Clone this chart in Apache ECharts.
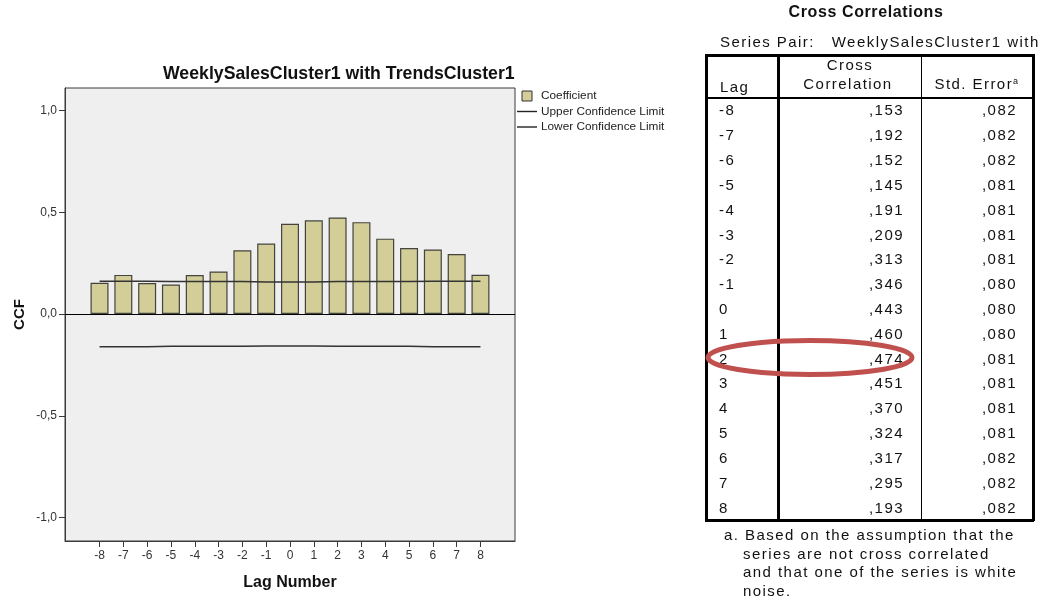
<!DOCTYPE html>
<html>
<head>
<meta charset="utf-8">
<script src="https://cdn.jsdelivr.net/npm/echarts@6/dist/echarts.min.js"></script>
<style>
  html, body { margin: 0; padding: 0; background: #ffffff; }
  #wrap { position: relative; width: 1042px; height: 596px; overflow: hidden; background: #fff; }
  #chart { position: absolute; left: 0; top: 0; width: 1042px; height: 596px; }
  .t { position: absolute; font-family: "Liberation Sans", Arial, sans-serif; color: #111; white-space: nowrap; font-size: 15px; letter-spacing: 1.45px; line-height: 16px; }
  .ln { position: absolute; background: #000; }
</style>
</head>
<body>
<div id="wrap">
  <div id="chart"></div>
  <div id="table"></div>
  <svg id="ov" width="1042" height="596" style="position:absolute;left:0;top:0;pointer-events:none">
    <ellipse cx="810" cy="357.5" rx="102" ry="17" fill="none" stroke="#c0504d" stroke-width="5"/>
  </svg>
</div>
<script>
// ---- Data ----
var lags = [-8, -7, -6, -5, -4, -3, -2, -1, 0, 1, 2, 3, 4, 5, 6, 7, 8];
var coefficient = [0.153, 0.192, 0.152, 0.145, 0.191, 0.209, 0.313, 0.346, 0.443, 0.460, 0.474, 0.451, 0.370, 0.324, 0.317, 0.295, 0.193];
var stdError = [0.082, 0.082, 0.082, 0.081, 0.081, 0.081, 0.081, 0.080, 0.080, 0.080, 0.081, 0.081, 0.081, 0.081, 0.082, 0.082, 0.082];
var upperLimit = [0.161, 0.161, 0.161, 0.159, 0.159, 0.159, 0.159, 0.157, 0.157, 0.157, 0.159, 0.159, 0.159, 0.159, 0.161, 0.161, 0.161];
var lowerLimit = [-0.161, -0.161, -0.161, -0.159, -0.159, -0.159, -0.159, -0.157, -0.157, -0.157, -0.159, -0.159, -0.159, -0.159, -0.161, -0.161, -0.161];
var yTicks = [-1.0, -0.5, 0.0, 0.5, 1.0];
var chartTitle = 'WeeklySalesCluster1 with TrendsCluster1';
var tableTitle = 'Cross Correlations';
var seriesPair = 'Series Pair:\u00a0\u00a0 WeeklySalesCluster1 with';
var footnote = ['a. Based on the assumption that the', 'series are not cross correlated', 'and that one of the series is white', 'noise.'];

function pair(xs, ys) { return xs.map(function (x, i) { return [x, ys[i]]; }); }
function fmt3(v) { return v.toFixed(3).replace(/^0\./, ','); }

var FONT = '"Liberation Sans", Arial, sans-serif';
var LINE_ICON = 'path://M0,0L20,0L20,1.4L0,1.4Z';
var chart = echarts.init(document.getElementById('chart'), null, { renderer: 'canvas' });
chart.setOption({
  animation: false,
  textStyle: { fontFamily: FONT },
  title: {
    text: chartTitle, left: 158, top: 60,
    textStyle: { fontFamily: FONT, fontSize: 17.7, fontWeight: 'bold', color: '#111' }
  },
  legend: {
    orient: 'vertical', left: 517, top: 90, padding: 0, itemWidth: 20, itemHeight: 10, itemGap: 3.5,
    textStyle: { fontFamily: FONT, fontSize: 11.8, color: '#222', padding: [0, 0, 0, -1] },
    data: [
      { name: 'Coefficient', icon: 'path://M0,0L10,0L10,10L0,10Z', itemStyle: { color: '#d3ce97', borderColor: '#333', borderWidth: 1 } },
      { name: 'Upper Confidence Limit', icon: LINE_ICON, itemStyle: { color: '#222', borderWidth: 0 } },
      { name: 'Lower Confidence Limit', icon: LINE_ICON, itemStyle: { color: '#222', borderWidth: 0 } }
    ]
  },
  grid: {
    left: 65, top: 88, right: 527, bottom: 55,
    show: true, backgroundColor: '#efefef', borderColor: '#3a3a3a', borderWidth: 1
  },
  xAxis: {
    type: 'value', min: -9.45, max: 9.45,
    name: 'Lag Number', nameLocation: 'middle', nameGap: 34,
    nameTextStyle: { fontFamily: FONT, fontSize: 16, fontWeight: 'bold', color: '#111' },
    axisLine: { show: true, onZero: false, lineStyle: { color: '#3a3a3a' } },
    axisTick: { show: true, length: 6, customValues: lags, lineStyle: { color: '#3a3a3a' } },
    axisLabel: { customValues: lags, margin: 9, fontSize: 12, color: '#333', fontFamily: FONT },
    splitLine: { show: false }
  },
  yAxis: {
    type: 'value', min: -1.115, max: 1.11,
    name: 'CCF', nameLocation: 'middle', nameGap: 38, nameRotate: 90,
    nameTextStyle: { fontFamily: FONT, fontSize: 15, fontWeight: 'bold', color: '#111' },
    axisLine: { show: true, onZero: false, lineStyle: { color: '#3a3a3a' } },
    axisTick: { show: true, length: 6, customValues: yTicks, lineStyle: { color: '#3a3a3a' } },
    axisLabel: {
      customValues: yTicks, margin: 8, fontSize: 12, color: '#333', fontFamily: FONT,
      formatter: function (v) { return v.toFixed(1).replace('.', ','); }
    },
    splitLine: { show: false }
  },
  series: [
    {
      name: 'Coefficient', type: 'bar', barWidth: 18,
      data: pair(lags, coefficient),
      itemStyle: { color: '#d3ce97', borderColor: 'rgba(40,40,40,0.85)', borderWidth: 1.2 },
      markLine: {
        silent: true, symbol: 'none', label: { show: false },
        lineStyle: { color: '#000', width: 1, type: 'solid' },
        data: [{ yAxis: 0 }]
      },
      z: 2
    },
    {
      name: 'Upper Confidence Limit', type: 'line', symbol: 'none',
      data: pair(lags, upperLimit), lineStyle: { color: '#333', width: 1.5 }, itemStyle: { color: '#333' }, z: 3
    },
    {
      name: 'Lower Confidence Limit', type: 'line', symbol: 'none',
      data: pair(lags, lowerLimit), lineStyle: { color: '#333', width: 1.5 }, itemStyle: { color: '#333' }, z: 3
    }
  ]
});

// ---- Table (HTML) ----
(function () {
  var host = document.getElementById('table');
  var html = '';
  function text(s, x, y, opts) {
    opts = opts || {};
    var st = 'top:' + (y - 8) + 'px;';
    if (opts.align === 'right') st += 'right:' + (1042 - x) + 'px;';
    else if (opts.align === 'center') st += 'left:' + x + 'px;transform:translateX(-50%);';
    else st += 'left:' + x + 'px;';
    if (opts.bold) st += 'font-weight:bold;letter-spacing:0.6px;';
    if (opts.size) st += 'font-size:' + opts.size + 'px;';
    html += '<div class="t" style="' + st + '">' + s + '</div>';
  }
  function line(x, y, w, h) {
    html += '<div class="ln" style="left:' + x + 'px;top:' + y + 'px;width:' + w + 'px;height:' + h + 'px"></div>';
  }
  text(tableTitle, 866, 12, { align: 'center', bold: true, size: 16 });
  text(seriesPair, 720, 42);
  var L = 706, R = 1033, T = 55, HB = 98, B = 520, C1 = 778, C2 = 921;
  var rowH = (B - HB) / lags.length;
  // borders
  line(L - 1, T - 1, R - L + 2, 3);
  line(L - 1, B - 1, R - L + 2, 3);
  line(L - 1, T - 1, 3, B - T + 2);
  line(R - 1, T - 1, 3, B - T + 2);
  line(C1 - 1, T, 2.5, B - T);
  line(C2, T, 1, B - T);
  line(L, HB - 1, R - L, 2);
  // header
  text('Lag', 720, 87);
  text('Cross', 850, 65, { align: 'center' });
  text('Correlation', 848, 84, { align: 'center' });
  text('Std. Error<sup style="font-size:9px;vertical-align:5px;line-height:0">a</sup>', 977, 84, { align: 'center' });
  for (var i = 0; i < lags.length; i++) {
    var cy = HB + rowH * (i + 0.5);
    text(String(lags[i]), 719, cy);
    text(fmt3(coefficient[i]), 904, cy, { align: 'right' });
    text(fmt3(stdError[i]), 1017, cy, { align: 'right' });
  }
  text(footnote[0], 724, 535);
  for (var j = 1; j < footnote.length; j++) text(footnote[j], 743, 535 + 18.5 * j);
  host.innerHTML = html;
})();
</script>
</body>
</html>
